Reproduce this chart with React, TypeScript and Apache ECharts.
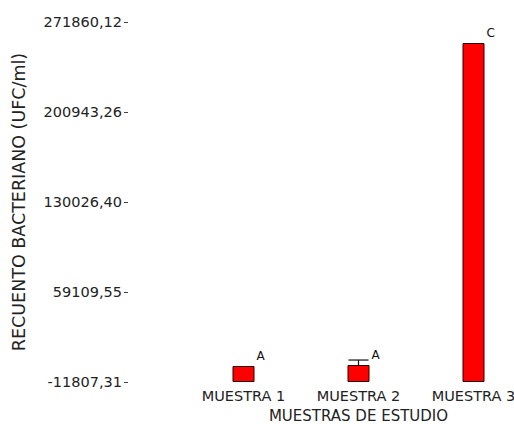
import React, { useEffect, useRef } from "react";
import * as echarts from "echarts";

const categories = ["MUESTRA 1", "MUESTRA 2", "MUESTRA 3"];
const means = [800, 1600, 255300];
const errorUpper: (number | null)[] = [null, 5500, null];
const groupLetters = ["A", "A", "C"];
const tickLabels = ["-11807,31", "59109,55", "130026,40", "200943,26", "271860,12"];
const axisMin = -11807.31;
const axisMax = 271860.12;
const axisStep = 70916.8575;
const yTitle = "RECUENTO BACTERIANO (UFC/ml)";
const xTitle = "MUESTRAS DE ESTUDIO";

export default function App() {
  const ref = useRef<HTMLDivElement>(null);
  useEffect(() => {
    const chart = echarts.init(ref.current!, null, { renderer: "svg" });
    const shift = (v: number) => v - axisMin;
    const font = "DejaVu Sans";
    const errData = errorUpper
      .map((e, i) => (e == null ? null : [i, shift(e), shift(means[i])]))
      .filter((d) => d != null);
    chart.setOption({
      animation: false,
      backgroundColor: "#ffffff",
      grid: { left: 186, top: 22, width: 345, height: 360, containLabel: false, outerBoundsMode: "none" },
      xAxis: {
        type: "category",
        data: categories,
        axisLine: { show: false },
        axisTick: { show: false },
        axisLabel: { interval: 0, margin: 6, fontFamily: font, fontSize: 14.5, color: "#222" },
        name: xTitle,
        nameLocation: "middle",
        nameGap: 24,
        nameTextStyle: { fontFamily: font, fontSize: 15, lineHeight: 17, color: "#222" },
      },
      yAxis: {
        type: "value",
        min: 0,
        max: axisMax - axisMin,
        interval: axisStep,
        offset: 58,
        splitLine: { show: false },
        axisLine: { show: false },
        axisTick: { show: true, length: 4, lineStyle: { color: "#444" } },
        axisLabel: {
          margin: 6,
          fontFamily: font,
          fontSize: 14.5,
          color: "#222",
          verticalAlign: "middle",
          padding: [0, 0, 6, 0],
          formatter: (v: number) => tickLabels[Math.round(v / axisStep)] ?? "",
        },
        name: yTitle,
        nameLocation: "middle",
        nameRotate: 90,
        nameGap: 100,
        nameTextStyle: { fontFamily: font, fontSize: 17.5, color: "#222" },
      },
      series: [
        {
          type: "bar",
          data: means.map(shift),
          barWidth: 22,
          itemStyle: { color: "#ff0000", borderColor: "#2a0000", borderWidth: 1 },
          label: {
            show: true,
            position: [24, -16],
            formatter: (p: any) => groupLetters[p.dataIndex],
            fontFamily: font,
            fontSize: 12,
            color: "#111",
          },
        },
        {
          type: "custom",
          data: errData,
          renderItem: (params: any, api: any) => {
            const top = api.coord([api.value(0), api.value(1)]);
            const base = api.coord([api.value(0), api.value(2)]);
            const half = 10;
            return {
              type: "group",
              children: [
                {
                  type: "line",
                  shape: { x1: top[0] - half, y1: top[1], x2: top[0] + half, y2: top[1] },
                  style: { stroke: "#111", lineWidth: 1.2 },
                },
                {
                  type: "line",
                  shape: { x1: top[0], y1: top[1], x2: top[0], y2: base[1] },
                  style: { stroke: "#111", lineWidth: 1.2 },
                },
              ],
            };
          },
        },
      ],
    });
    return () => chart.dispose();
  }, []);
  return (
    <div
      style={{
        position: "fixed",
        left: 0,
        top: 0,
        width: 514,
        height: 424,
        overflow: "hidden",
        background: "#fff",
      }}
    >
      <div ref={ref} style={{ width: 532, height: 424 }} />
    </div>
  );
}
